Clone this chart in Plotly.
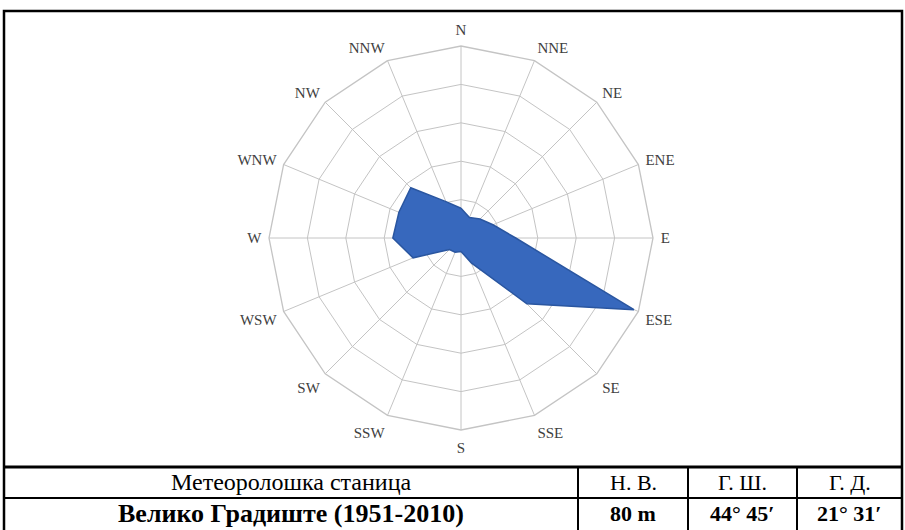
import plotly.graph_objects as go

directions = ["N", "NNE", "NE", "ENE", "E", "ESE", "SE", "SSE",
              "S", "SSW", "SW", "WSW", "W", "WNW", "NW", "NNW"]
frequency = [31, 23, 28, 36, 57, 195, 97, 28, 14, 16, 17, 54, 71, 70, 74, 41]
calm = 181

header = ["Метеоролошка станица", "Н. В.", "Г. Ш.", "Г. Д."]
station_row = ["Велико Градиште (1951-2010)", "80 m", "44° 45′", "21° 31′"]

W, H = 905, 530

def px(x):
    return x / W

def py(y):
    return 1 - y / H

fig = go.Figure()

fig.add_trace(go.Scatterpolar(
    r=frequency + frequency[:1],
    theta=directions + directions[:1],
    mode="lines",
    fill="toself",
    fillcolor="#3768BD",
    line=dict(color="#2A56A0", width=1.5),
    hoverinfo="skip",
    showlegend=False,
))

fig.add_trace(go.Scatterpolar(
    r=[0], theta=["N"],
    mode="markers+text",
    marker=dict(size=25, color="#7f93b5",
                gradient=dict(type="radial", color="#eef2f8"),
                line=dict(color="#9aa8c0", width=0.5)),
    text=[str(calm)],
    textposition="middle center",
    textfont=dict(family="Liberation Serif", size=16, color="#111111"),
    hoverinfo="skip",
    showlegend=False,
))

grid = "#c4c4c4"
fig.update_layout(
    width=W, height=H,
    margin=dict(l=0, r=0, t=0, b=0),
    paper_bgcolor="white",
    plot_bgcolor="white",
    showlegend=False,
    polar=dict(
        domain=dict(x=[269 / W, 653 / W], y=[py(430), py(46)]),
        gridshape="linear",
        bgcolor="white",
        radialaxis=dict(range=[0, 200], dtick=40, showticklabels=False,
                        ticks="", showline=False, gridcolor=grid, gridwidth=1.3),
        angularaxis=dict(direction="clockwise", rotation=90,
                         categoryorder="array", categoryarray=directions,
                         gridcolor=grid, gridwidth=1.3,
                         linecolor=grid, linewidth=1.3,
                         ticks="outside", ticklen=4, tickcolor="rgba(0,0,0,0)",
                         tickfont=dict(family="Liberation Serif", size=15, color="#404040")),
    ),
)

shapes = []
shapes.append(dict(type="rect", xref="paper", yref="paper",
                   x0=px(4), x1=px(902), y0=py(534), y1=py(11),
                   line=dict(color="black", width=2.5)))
shapes.append(dict(type="line", xref="paper", yref="paper",
                   x0=px(4), x1=px(902), y0=py(467), y1=py(467),
                   line=dict(color="black", width=3)))
shapes.append(dict(type="line", xref="paper", yref="paper",
                   x0=px(4), x1=px(902), y0=py(498), y1=py(498),
                   line=dict(color="black", width=2)))
col_edges = [4, 578, 688, 797, 902]
for xe in col_edges[1:-1]:
    shapes.append(dict(type="line", xref="paper", yref="paper",
                       x0=px(xe), x1=px(xe), y0=py(467), y1=py(534),
                       line=dict(color="black", width=2)))

annotations = []
for i in range(4):
    cx = (col_edges[i] + col_edges[i + 1]) / 2
    annotations.append(dict(xref="paper", yref="paper", x=px(cx), y=py(482),
                            text=header[i], showarrow=False,
                            xanchor="center", yanchor="middle",
                            font=dict(family="Liberation Serif", size=24 if i == 0 else 22,
                                      color="black")))
    annotations.append(dict(xref="paper", yref="paper", x=px(cx), y=py(513),
                            text="<b>" + station_row[i] + "</b>", showarrow=False,
                            xanchor="center", yanchor="middle",
                            font=dict(family="Liberation Serif", size=26 if i == 0 else 22,
                                      color="black")))

fig.update_layout(shapes=shapes, annotations=annotations)

fig.write_html("out.html", config={"displayModeBar": False},
               post_script="document.body.style.margin='0px';document.body.style.overflow='hidden';")
